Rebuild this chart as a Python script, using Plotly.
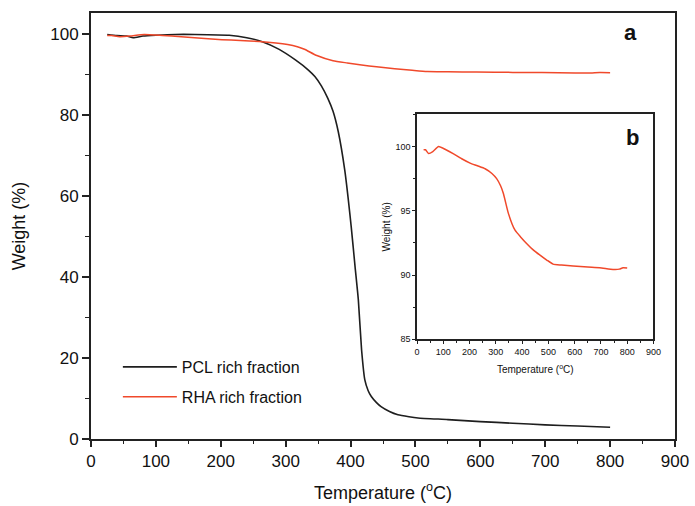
import plotly.graph_objects as go

# PCL rich fraction (black)
pcl_T = [25, 40, 55, 65, 80, 100, 130, 160, 213, 240, 264, 290, 315, 335, 345, 355,
         365, 373, 381, 391, 401, 407, 412, 417, 422, 427, 432, 440, 447, 460, 473,
         490, 504, 550, 600, 650, 700, 750, 800]
pcl_W = [100, 99.7, 99.6, 99.2, 99.6, 99.8, 100, 100, 99.8, 99.2, 98.2, 96.3, 93.7,
         91.2, 89.6, 87.3, 84.2, 81.0, 76.0, 66.5, 52.5, 42.5, 34.4, 22.0, 14.6, 12.0,
         10.5, 9.0, 8.0, 6.8, 6.0, 5.5, 5.2, 4.8, 4.3, 3.9, 3.5, 3.2, 2.9]

# RHA rich fraction (red)
rha_T = [25, 32, 44, 60, 82, 110, 139, 170, 202, 230, 259, 285, 303, 318, 329, 348,
         373, 395, 417, 440, 468, 495, 518, 550, 594, 650, 695, 746, 770, 784, 800]
rha_W = [99.75, 99.75, 99.45, 99.6, 100.0, 99.75, 99.43, 99.05, 98.71, 98.5, 98.27,
         97.9, 97.5, 96.95, 96.33, 94.78, 93.49, 92.95, 92.46, 92.0, 91.55, 91.15, 90.85,
         90.78, 90.7, 90.62, 90.57, 90.44, 90.46, 90.57, 90.55]

black = "#1e1e1e"
red = "#F0492B"
font = "Liberation Sans, Arial, sans-serif"

fig = go.Figure()
fig.add_trace(go.Scatter(x=pcl_T, y=pcl_W, mode="lines", name="PCL rich fraction",
                         legendgroup="pcl",
                         line=dict(color=black, width=1.6, shape="spline", smoothing=0.5),
                         xaxis="x", yaxis="y"))
fig.add_trace(go.Scatter(x=rha_T, y=rha_W, mode="lines", name="RHA rich fraction",
                         legendgroup="rha",
                         line=dict(color=red, width=1.5, shape="spline", smoothing=0.5),
                         xaxis="x", yaxis="y"))
fig.add_trace(go.Scatter(x=rha_T, y=rha_W, mode="lines", showlegend=False,
                         legendgroup="rha",
                         line=dict(color=red, width=1.5, shape="spline", smoothing=0.5),
                         xaxis="x2", yaxis="y2"))

axis_common = dict(showline=True, linecolor="#222", mirror=True, showgrid=False,
                   zeroline=False, ticks="outside", tickcolor="#222")

fig.update_layout(
    width=695, height=506,
    margin=dict(l=91, r=16, t=13, b=67),
    paper_bgcolor="white", plot_bgcolor="white",
    font=dict(family=font, color="#111"),
    xaxis=dict(**axis_common, range=[0, 900], dtick=100, linewidth=1.8, automargin=False,
               ticklen=6, tickwidth=1.5, tickfont=dict(size=17),
               minor=dict(dtick=50, ticklen=3, tickwidth=1.2, ticks="outside", tickcolor="#222"),
               title=dict(text="Temperature (<sup>o</sup>C)", font=dict(size=18), standoff=16)),
    yaxis=dict(**axis_common, range=[0, 105.3], dtick=20, linewidth=1.8, automargin=False,
               ticklen=7, tickwidth=1.5, tickfont=dict(size=17),
               minor=dict(dtick=10, ticklen=4, tickwidth=1.2, ticks="outside", tickcolor="#222"),
               title=dict(text="Weight (%)", font=dict(size=18), standoff=20)),
    xaxis2=dict(**axis_common, domain=[0.5583, 0.9631], anchor="y2", range=[0, 900],
                dtick=100, linewidth=1.5, ticklen=3, tickwidth=1, tickfont=dict(size=9),
                minor=dict(dtick=50, ticklen=2, tickwidth=1, ticks="outside", tickcolor="#222"),
                title=dict(text="Temperature (<sup>o</sup>C)", font=dict(size=10), standoff=10)),
    yaxis2=dict(**axis_common, domain=[0.234, 0.762], anchor="x2", range=[85, 102.5],
                dtick=5, linewidth=1.5, ticklen=3, tickwidth=1, tickfont=dict(size=9),
                minor=dict(dtick=2.5, ticklen=2, tickwidth=1, ticks="outside", tickcolor="#222"),
                title=dict(text="Weight (%)", font=dict(size=10), standoff=3)),
    legend=dict(x=0.046, y=0.209, xanchor="left", yanchor="top", bgcolor="rgba(0,0,0,0)",
                font=dict(size=16), tracegroupgap=6, itemwidth=54),
    annotations=[
        dict(text="<b>a</b>", x=0.924, y=0.955, xref="paper", yref="paper",
             xanchor="center", yanchor="middle",
             showarrow=False, font=dict(size=22, color="#111")),
        dict(text="<b>b</b>", x=0.927, y=0.708, xref="paper", yref="paper",
             xanchor="center", yanchor="middle",
             showarrow=False, font=dict(size=22, color="#111")),
    ],
)

fig.write_html("out.html")
